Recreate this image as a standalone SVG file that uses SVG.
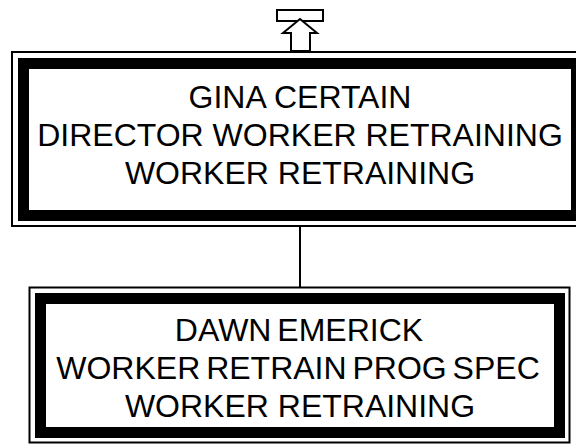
<svg xmlns="http://www.w3.org/2000/svg" width="576" height="445" viewBox="0 0 576 445">
<style>
.thin{fill:none;stroke:#000;stroke-width:2}
.thick{fill:#fff;stroke:#000;stroke-width:11}
.t{font-family:"Liberation Sans",Arial,sans-serif;font-size:32px;fill:#000;text-anchor:middle}
.ns{word-spacing:-3px}
.conn{stroke:#000;stroke-width:2;fill:none}
</style>
<rect width="576" height="445" fill="#fff"/>
<g id="connectors">
<line class="conn" x1="300" y1="227" x2="300" y2="287"/>
</g>
<g id="up-marker">
<rect x="277" y="10" width="46" height="11" fill="#fff" stroke="#000" stroke-width="2"/>
<polygon points="300,19 317,33 310,33 310,51 291,51 291,33 283,33" fill="#fff" stroke="#000" stroke-width="2"/>
</g>
<g id="node-gina">
<rect class="thin" x="12" y="52" width="576" height="174"/>
<rect class="thick" x="23.5" y="63.5" width="553" height="152"/>
<text class="t" x="300" y="108">GINA CERTAIN</text>
<text class="t" x="300" y="146">DIRECTOR WORKER RETRAINING</text>
<text class="t" x="300" y="184">WORKER RETRAINING</text>
</g>
<g id="node-dawn">
<rect class="thin" x="29.5" y="287.5" width="540" height="155"/>
<rect class="thick" x="40.5" y="298.5" width="519" height="134"/>
<text class="t ns" x="299" y="341">DAWN EMERICK</text>
<text class="t ns" x="298" y="379">WORKER RETRAIN PROG SPEC</text>
<text class="t" x="300" y="417">WORKER RETRAINING</text>
</g>
</svg>
